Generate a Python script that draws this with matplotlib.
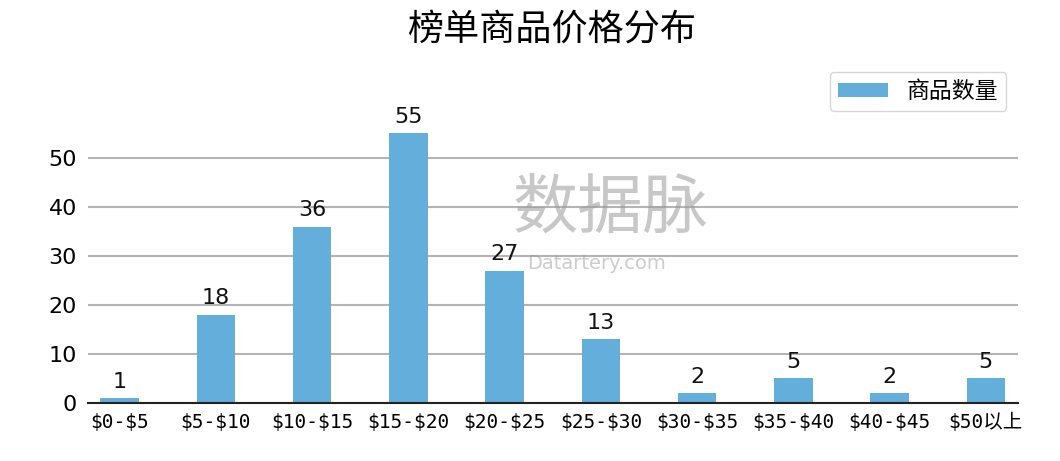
import matplotlib
matplotlib.use("Agg")
import matplotlib.pyplot as plt
import numpy as np

plt.rcParams['font.family'] = ['DejaVu Sans', 'Noto Sans CJK SC']
plt.rcParams['text.parse_math'] = False

# data
categories = ['$0-$5', '$5-$10', '$10-$15', '$15-$20', '$20-$25',
              '$25-$30', '$30-$35', '$35-$40', '$40-$45', '$50以上']
counts = [1, 18, 36, 55, 27, 13, 2, 5, 2, 5]
series_name = '商品数量'
title = '榜单商品价格分布'

bar_color = '#64aedb'

fig = plt.figure(figsize=(10.6, 4.61), dpi=100)
ax = fig.add_axes([0.083, 0.126, 0.877, 0.627])

x = np.arange(len(categories))
bars = ax.bar(x, counts, width=0.4, color=bar_color, label=series_name, zorder=3)

for xi, v in zip(x, counts):
    ax.text(xi, v + 1.3, str(v), ha='center', va='bottom', fontsize=16, color='#111111', zorder=4)

ax.set_xlim(-0.33, len(categories) - 1 + 0.33)
ax.set_ylim(0, 59)
ax.set_yticks([0, 10, 20, 30, 40, 50])
ax.set_xticks(x)
ax.set_xticklabels(categories, fontsize=14,
                   family=['DejaVu Sans Mono', 'Noto Sans CJK SC'])
ax.tick_params(axis='y', labelsize=16, length=0, pad=8)
ax.tick_params(axis='x', length=0, pad=7)

ax.grid(axis='y', color='#b4b4b4', linewidth=1.5, zorder=0)
for s in ['top', 'right', 'left']:
    ax.spines[s].set_visible(False)
ax.spines['bottom'].set_color('#222222')
ax.spines['bottom'].set_linewidth(1.5)
ax.spines['bottom'].set_zorder(5)

fig.text(0.52, 0.935, title, ha='center', va='center', fontsize=26,
         family=['Noto Sans CJK SC', 'DejaVu Sans'])

leg = ax.legend(loc='upper right', bbox_to_anchor=(1.0, 1.185),
                prop={'family': ['Noto Sans CJK SC', 'DejaVu Sans'], 'size': 16.5},
                frameon=True, fancybox=True, handlelength=2.2, handleheight=0.6,
                borderpad=0.35)
leg.get_frame().set_edgecolor('#cccccc')

# watermark
fig.text(0.483, 0.545, '数据脉', fontsize=47, color='#9a9a9a', alpha=0.55,
         family=['Noto Sans CJK SC', 'DejaVu Sans'], ha='left', va='center', zorder=10)
fig.text(0.497, 0.428, 'Datartery.com', fontsize=14, color='#9a9a9a', alpha=0.5,
         ha='left', va='center', zorder=10)

fig.savefig('out.png', dpi=100)
